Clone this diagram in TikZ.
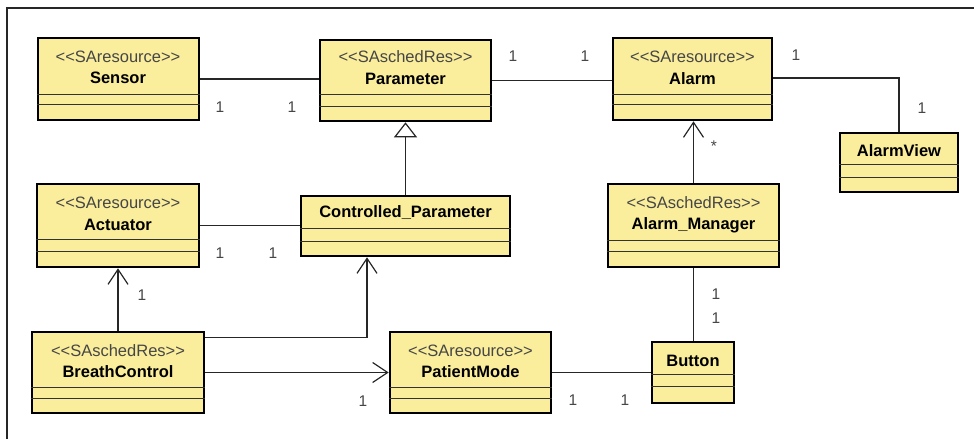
\documentclass[tikz,border=0pt]{standalone}
\usepackage{fontspec}
\setmainfont{Liberation Sans}
\usetikzlibrary{arrows.meta,fit,calc}
\definecolor{clsfill}{RGB}{250,237,155}
\definecolor{txtgray}{RGB}{70,70,70}
\newcommand{\stl}{<\kern0pt<}
\newcommand{\stg}{>\kern0pt>}
\tikzset{
  cls/.style={draw=black, fill=clsfill, line width=2.6pt, inner sep=0pt},
  sepline/.style={draw=black!80, line width=0.9pt},
  stereo/.style={font=\fontsize{16.5}{17}\selectfont, text=txtgray, inner sep=0pt},
  cname/.style={font=\fontsize{16.5}{18}\selectfont\bfseries, text=black, inner sep=0pt},
  mult/.style={font=\fontsize{15.5}{16}\selectfont, text=txtgray, inner sep=0pt},
  conn/.style={draw=black!85, line width=1.2pt},
  assoc/.style={conn, -{Straight Barb[length=15pt, width=20pt, line width=1.2pt]}},
  gen/.style={conn, -{Triangle[open, length=15pt, width=23pt, fill=white, line width=1.2pt]}},
}
% #1 name, #2 x1, #3 y1, #4 x2, #5 y2, #6 sep1, #7 sep2
\newcommand{\umlbox}[7]{%
  \coordinate (#1-nw) at (#2,#3);
  \coordinate (#1-se) at (#4,#5);
  \node[cls, fit=(#1-nw)(#1-se)] (#1) {};
  \draw[sepline] (#1.west |- 0,#6) -- (#1.east |- 0,#6);
  \draw[sepline] (#1.west |- 0,#7) -- (#1.east |- 0,#7);
}
\begin{document}
\begin{tikzpicture}[x=1pt,y=-1pt]
\useasboundingbox (0,0) rectangle (974,439);
\fill[white] (0,0) rectangle (974,439);
% frame
\draw[line width=1.5pt, black!85] (7,439) -- (7,8) -- (974,8);

% classes
\umlbox{sensor}{38}{38}{199}{120}{94}{104}
\node[stereo] (sensor-st) at (118,57) {\stl SAresource\stg};
\node[cname] (sensor-nm) at (118,78) {Sensor};

\umlbox{param}{320}{40}{491}{121}{94}{106}
\node[stereo] (param-st) at (405.5,57) {\stl SAschedRes\stg};
\node[cname] (param-nm) at (405.5,79) {Parameter};

\umlbox{alarm}{613}{38}{772}{120}{94}{104}
\node[stereo] (alarm-st) at (692.5,57) {\stl SAresource\stg};
\node[cname] (alarm-nm) at (692.5,79) {Alarm};

\umlbox{aview}{840}{133}{958}{192}{164}{177}
\node[cname] (aview-nm) at (899,151) {AlarmView};

\umlbox{act}{37}{184}{199}{267}{239}{251}
\node[stereo] (act-st) at (118,203) {\stl SAresource\stg};
\node[cname] (act-nm) at (118,225) {Actuator};

\umlbox{ctrl}{301}{196}{510}{256}{228}{241}
\node[cname] (ctrl-nm) at (405.5,213) {Controlled\_Parameter};

\umlbox{am}{608}{184}{779}{267}{240}{251}
\node[stereo] (am-st) at (693.5,203) {\stl SAschedRes\stg};
\node[cname] (am-nm) at (693.5,225) {Alarm\_Manager};

\umlbox{bc}{32}{332}{204}{413}{387}{398}
\node[stereo] (bc-st) at (118,351) {\stl SAschedRes\stg};
\node[cname] (bc-nm) at (118,372) {BreathControl};

\umlbox{pm}{390}{332}{551}{413}{387}{398}
\node[stereo] (pm-st) at (470.5,351) {\stl SAresource\stg};
\node[cname] (pm-nm) at (470.5,372) {PatientMode};

\umlbox{btn}{652}{342}{734}{403}{374}{386}
\node[cname] (btn-nm) at (693,361) {Button};

% connectors
\draw[conn] (sensor.east) -- (param.west |- sensor.east);
\draw[conn] (param.east) -- (alarm.west |- param.east);
\draw[conn] ([yshift=1pt]alarm.east) -| (aview.north);
\draw[gen] (ctrl.north) -- (param.south);
\draw[assoc] (am.north) -- (am.north |- alarm.south);
\draw[conn] (act.east) -- (ctrl.west |- act.east);
\draw[assoc] (bc.north) -- (act.south);
\draw[assoc] ([yshift=-7pt]bc.north east) -| ([xshift=-38.5pt]ctrl.south);
\draw[assoc] (bc.east) -- (pm.west);
\draw[conn] (pm.east) -- (btn.west |- pm.east);
\draw[conn] (am.south) -- (btn.north -| am.south);

% multiplicities
\node[mult] (m1) at (220,107) {1};
\node[mult] (m2) at (292,107) {1};
\node[mult] (m3) at (513,56) {1};
\node[mult] (m4) at (585,56) {1};
\node[mult] (m5) at (796,55) {1};
\node[mult] (m6) at (922,108) {1};
\node[mult] (m7) at (714,146) {*};
\node[mult] (m8) at (220,253) {1};
\node[mult] (m9) at (273,253) {1};
\node[mult] (m10) at (142,295) {1};
\node[mult] (m11) at (363,401) {1};
\node[mult] (m12) at (573,400) {1};
\node[mult] (m13) at (625,400) {1};
\node[mult] (m14) at (716,294) {1};
\node[mult] (m15) at (716,318) {1};
\end{tikzpicture}
\end{document}
